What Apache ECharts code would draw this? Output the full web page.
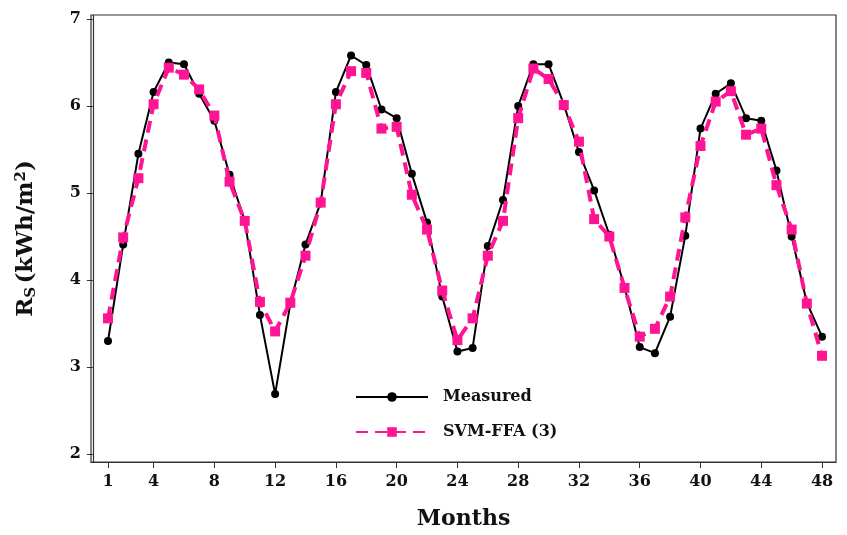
<!DOCTYPE html>
<html>
<head>
<meta charset="utf-8">
<script src="https://cdn.jsdelivr.net/npm/echarts@6/dist/echarts.min.js"></script>
<style>html,body{margin:0;padding:0;background:#fff}#c{width:847px;height:535px}</style>
</head>
<body>
<div id="c"></div>
<script>
const months = Array.from({length: 48}, (_, i) => i + 1);
const xTicks = [1, 4, 8, 12, 16, 20, 24, 28, 32, 36, 40, 44, 48];
const yTicks = [2, 3, 4, 5, 6, 7];
const measured = [3.30,4.41,5.45,6.16,6.50,6.48,6.14,5.83,5.21,4.68,3.60,2.69,
  3.73,4.41,4.89,6.16,6.58,6.47,5.96,5.86,5.22,4.66,3.81,3.18,
  3.22,4.39,4.92,6.00,6.48,6.48,6.02,5.47,5.03,4.52,3.92,3.23,
  3.16,3.58,4.51,5.74,6.14,6.26,5.86,5.83,5.26,4.50,3.74,3.35];
const svmffa = [3.56,4.49,5.17,6.02,6.44,6.36,6.19,5.89,5.13,4.68,3.75,3.41,
  3.74,4.28,4.89,6.02,6.40,6.38,5.74,5.76,4.98,4.58,3.88,3.31,
  3.56,4.28,4.68,5.86,6.43,6.31,6.01,5.59,4.70,4.50,3.91,3.35,
  3.44,3.81,4.72,5.54,6.05,6.17,5.67,5.74,5.09,4.58,3.73,3.13];

const FONT = 'DejaVu Serif';
const chart = echarts.init(document.getElementById('c'), null, {renderer: 'canvas'});
chart.setOption({
  animation: false,
  backgroundColor: '#fff',
  grid: {left: 91, right: 11, top: 15, bottom: 68, show: true, borderColor: '#333', borderWidth: 1.2},
  legend: {
    orient: 'vertical', left: 350, top: 384, itemWidth: 72, itemHeight: 12, itemGap: 19,
    textStyle: {fontFamily: FONT, fontWeight: 'bold', fontSize: 16, color: '#111', padding: [0,0,0,10]},
    data: ['Measured', 'SVM-FFA (3)']
  },
  xAxis: {
    type: 'value', min: -0.12, max: 48.92,
    name: 'Months', nameLocation: 'middle', nameGap: 46,
    nameTextStyle: {fontFamily: FONT, fontWeight: 'bold', fontSize: 22, color: '#111'},
    axisLine: {show: true, lineStyle: {color: '#333', width: 1.2}},
    axisTick: {show: true, length: 6, customValues: xTicks, lineStyle: {color: '#333'}},
    axisLabel: {customValues: xTicks, fontFamily: FONT, fontWeight: 'bold', fontSize: 16, color: '#111', margin: 12},
    splitLine: {show: false}
  },
  yAxis: {
    type: 'value', min: 1.91, max: 7.045,
    name: '{r|R}{s|S} {r|(kWh/m}{p|2}{r|)}', nameLocation: 'middle', nameGap: 52, nameRotate: 90,
    nameTextStyle: {
      rich: {
        r: {fontFamily: FONT, fontWeight: 'bold', fontSize: 23, color: '#111'},
        s: {fontFamily: FONT, fontWeight: 'bold', fontSize: 15, color: '#111', verticalAlign: 'bottom', padding: [8,0,0,0]},
        p: {fontFamily: FONT, fontWeight: 'bold', fontSize: 15, color: '#111', verticalAlign: 'top', padding: [0,0,10,0]}
      }
    },
    axisLine: {show: true, lineStyle: {color: '#333', width: 1.2}},
    axisTick: {show: true, length: 6, customValues: yTicks, lineStyle: {color: '#333'}},
    axisLabel: {customValues: yTicks, fontFamily: FONT, fontWeight: 'bold', fontSize: 16, color: '#111', margin: 10},
    splitLine: {show: false}
  },
  series: [
    {
      name: 'Measured', type: 'line', data: months.map((m, i) => [m, measured[i]]),
      symbol: 'circle', symbolSize: 8, color: '#000',
      lineStyle: {color: '#000', width: 2}, itemStyle: {color: '#000'}, z: 2
    },
    {
      name: 'SVM-FFA (3)', type: 'line', data: months.map((m, i) => [m, svmffa[i]]),
      symbol: 'rect', symbolSize: 10, color: '#FF1493',
      lineStyle: {color: '#FF1493', width: 4, type: [12, 7]}, itemStyle: {color: '#FF1493'}, z: 3
    }
  ]
});
</script>
</body>
</html>
